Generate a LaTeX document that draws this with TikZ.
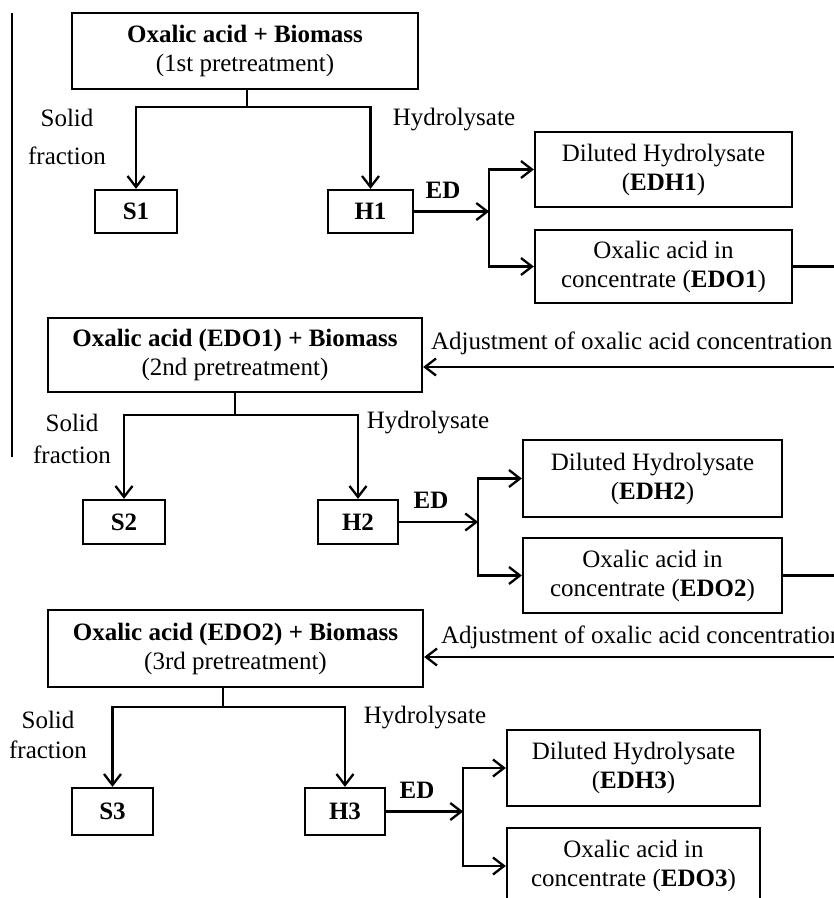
\documentclass[tikz,border=0pt]{standalone}
\usepackage{fontspec}
\setmainfont{Liberation Serif}
\usetikzlibrary{calc}
\usetikzlibrary{arrows.meta}

\begin{document}
\begin{tikzpicture}[x=1pt, y=-1pt,
font=\fontsize{25}{29}\selectfont,
line width=2.3pt,
box/.style={draw, align=center, inner sep=0pt},
lbl/.style={align=center, inner sep=0pt},
arr/.style={-{Straight Barb[length=11pt,width=17pt]}}
]
\useasboundingbox (0,0) rectangle (834,898);
\clip (0,0) rectangle (834,898);
\fill[white] (0,0) rectangle (834,898);

\draw[line width=1.3pt] (12,13) -- (12,457);

% first pretreatment
\node[box, minimum width=346, minimum height=76] (top1) at (245,51)
  {\textbf{Oxalic acid + Biomass}\\(1st pretreatment)};
\node[box, minimum width=82, minimum height=43] (s1) at (136,211.5) {\textbf{S1}};
\node[box, minimum width=85, minimum height=43] (h1) at (370.5,211.5) {\textbf{H1}};
\node[lbl] (sf1) at (67,137) {Solid\\[9pt]fraction};
\node[lbl] (hy1) at (454,120) {Hydrolysate};
\node[lbl] (ed1) at (443,190) {\textbf{ED}};
\node[box, minimum width=257, minimum height=75] (edh1) at (663.5,169.5)
  {Diluted Hydrolysate\\(\textbf{EDH1})};
\node[box, minimum width=257, minimum height=73] (edo1) at (663.5,266.5)
  {Oxalic acid in\\concentrate (\textbf{EDO1})};

\coordinate (j1) at (247,107);
\draw (j1 |- top1.south) -- (j1);
\draw[arr] (j1) -| (s1.north);
\draw[arr] (j1) -| (h1.north);
\draw[arr] (h1.east) -- ++(75,0) coordinate (e1);
\draw[arr] (e1) |- (edh1.west);
\draw[arr] (e1) |- (edo1.west);
\coordinate (r1) at (840,266.5);
\draw (edo1.east) -- (r1);

% second pretreatment
\node[box, minimum width=374, minimum height=74] (top2) at (235,355)
  {\textbf{Oxalic acid (EDO1) + Biomass}\\(2nd pretreatment)};
\node[lbl, anchor=west] (adj1) at (430,343) {Adjustment of oxalic acid concentration};
\coordinate (a1) at (840,367);
\draw[arr] (a1) -- (a1 -| top2.east);
\node[box, minimum width=82, minimum height=44] (s2) at (124,522) {\textbf{S2}};
\node[box, minimum width=80, minimum height=44] (h2) at (358,522) {\textbf{H2}};
\node[lbl] (sf2) at (72,439) {Solid\\[3pt]fraction};
\node[lbl] (hy2) at (428,423) {Hydrolysate};
\node[lbl] (ed2) at (431,500) {\textbf{ED}};
\node[box, minimum width=259, minimum height=77] (edh2) at (652.5,478.5)
  {Diluted Hydrolysate\\(\textbf{EDH2})};
\node[box, minimum width=259, minimum height=75] (edo2) at (652.5,575.5)
  {Oxalic acid in\\concentrate (\textbf{EDO2})};

\coordinate (j2) at (235,415);
\draw (j2 |- top2.south) -- (j2);
\draw[arr] (j2) -| (s2.north);
\draw[arr] (j2) -| (h2.north);
\draw[arr] (h2.east) -- ++(79,0) coordinate (e2);
\draw[arr] (e2) |- (edh2.west);
\draw[arr] (e2) |- (edo2.west);
\coordinate (r2) at (840,575.5);
\draw (edo2.east) -- (r2);

% third pretreatment
\node[box, minimum width=375, minimum height=77] (top3) at (235.5,648.5)
  {\textbf{Oxalic acid (EDO2) + Biomass}\\(3rd pretreatment)};
\node[lbl, anchor=west] (adj2) at (440,637) {Adjustment of oxalic acid concentration};
\coordinate (a2) at (840,657);
\draw[arr] (a2) -- (a2 -| top3.east);
\node[box, minimum width=81, minimum height=47] (s3) at (112.5,811.5) {\textbf{S3}};
\node[box, minimum width=80, minimum height=47] (h3) at (345,811.5) {\textbf{H3}};
\node[lbl] (sf3) at (48,735) {Solid\\[1pt]fraction};
\node[lbl] (hy3) at (425,718) {Hydrolysate};
\node[lbl] (ed3) at (417,790) {\textbf{ED}};
\node[box, minimum width=253, minimum height=76] (edh3) at (633.5,768)
  {Diluted Hydrolysate\\(\textbf{EDH3})};
\node[box, minimum width=253, minimum height=76] (edo3) at (633.5,866)
  {Oxalic acid in\\concentrate (\textbf{EDO3})};

\coordinate (j3) at (223,707);
\draw (j3 |- top3.south) -- (j3);
\draw[arr] (j3) -| (s3.north);
\draw[arr] (j3) -| (h3.north);
\draw[arr] (h3.east) -- ++(77,0) coordinate (e3);
\draw[arr] (e3) |- (edh3.west);
\draw[arr] (e3) |- (edo3.west);

\end{tikzpicture}
\end{document}
